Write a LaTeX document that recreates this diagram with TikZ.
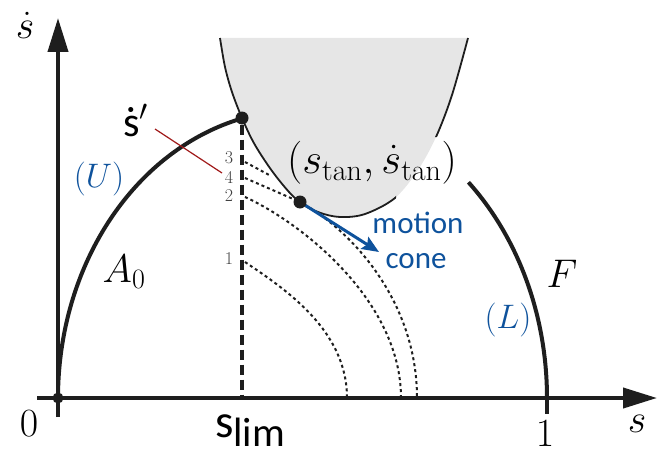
\RequirePackage{fix-cm}
\documentclass[tikz,border=0pt]{standalone}
\usepackage{fontspec}
\newfontfamily\calib{Carlito}
\usetikzlibrary{arrows.meta}
\definecolor{myblue}{RGB}{14,82,156}
\definecolor{mygray}{RGB}{230,230,230}
\definecolor{myred}{RGB}{160,25,25}
\definecolor{ink}{RGB}{30,30,30}
\begin{document}
\begin{tikzpicture}[x=1pt,y=-1pt,
  axisline/.style={line width=4pt, draw=ink, -{Triangle[length=34pt,width=20pt]}},
  thickcurve/.style={line width=4pt, draw=ink},
  boundary/.style={line width=1.8pt, draw=ink},
  dotcurve/.style={line width=2pt, draw=ink, dash pattern=on 3pt off 3pt},
  limline/.style={line width=3.5pt, draw=ink, dash pattern=on 10pt off 5pt},
  bigdot/.style={circle, fill=ink, inner sep=0pt, minimum size=13pt},
  smalldot/.style={circle, fill=ink, inner sep=0pt, minimum size=11pt},
  mathlbl/.style={font=\fontsize{40}{48}\selectfont, inner sep=0pt},
  bluelbl/.style={font=\fontsize{34}{40}\selectfont, text=myblue, inner sep=0pt},
  numlbl/.style={font=\fontsize{18}{20}\selectfont, text=black!75, inner sep=0pt},
  conelbl/.style={font=\calib\fontsize{31}{34}\selectfont, text=myblue, inner sep=0pt, anchor=base},
]
\useasboundingbox (0,0) rectangle (658,452);

% gray region
\def\graypts{(220,38) (225,67) (232,92) (242,118) (255,145) (275,175) (297,200) (318,212) (340,217) (365,214) (395,198) (418,170) (436,137) (452,95) (468,38)}
\fill[mygray] plot[smooth, tension=0.55] coordinates {\graypts} -- cycle;
\begin{scope}
  \clip (0,0) rectangle (396,452) (0,0) rectangle (658,137);
  \draw[boundary] plot[smooth, tension=0.55] coordinates {\graypts};
\end{scope}

% coordinates
\coordinate (O) at (58,398);
\coordinate (xs) at (37,398);
\coordinate (xe) at (657,398);
\coordinate (ys) at (58,417);
\coordinate (ye) at (58,18);
\coordinate (one) at (547,398);
\coordinate (onet) at (547,414);
\coordinate (lim) at (242,398);
\coordinate (d1s) at (245,262); \coordinate (d1e) at (347,398);
\coordinate (d2s) at (245,197); \coordinate (d2e) at (401,398);
\coordinate (d3s) at (245,162); \coordinate (d3e) at (271,176);
\coordinate (d4s) at (245,178); \coordinate (d4e) at (417,398);
\coordinate (rl1) at (155,129); \coordinate (rl2) at (222,173);
\coordinate (mc) at (379,252);

% dotted curves
\draw[dotcurve] (d1s) .. controls (285,289) and (347,330) .. (d1e);
\draw[dotcurve] (d2s) .. controls (300,222) and (401,300) .. (d2e);
\draw[dotcurve] (d3s) -- (d3e);
\draw[dotcurve] (d4s) -- (300,202) .. controls (350,229) and (417,300) .. (d4e);

% dots on curves
\node[bigdot] (P) at (242,118) {};
\node[bigdot] (T) at (300,202) {};

% s_lim dashed line
\draw[limline] (P) -- (lim);

% U and F curves
\draw[thickcurve] plot[domain=180:103.9, samples=80] ({300+242*cos(\x)}, {398-288*sin(\x)});
\draw[thickcurve] plot[domain=47:0, samples=60] ({300+247*cos(\x)}, {398-295*sin(\x)});

% axes
\draw[axisline] (xs) -- (xe);
\draw[axisline] (ys) -- (ye);
\draw[line width=4pt, draw=ink] (one) -- (onet);
\node[smalldot] (Od) at (O) {};

% motion cone arrow
\draw[line width=3pt, draw=myblue, -{Stealth[length=17pt,width=14pt,inset=3pt]}] (T) -- (mc);

% red leader
\draw[line width=1.2pt, draw=myred] (rl1) -- (rl2);

% labels
\node[mathlbl] (lsd) at (25,25) {$\dot s$};
\node[mathlbl] (l0) at (29,424) {$0$};
\node[mathlbl] (l1) at (545,434) {$1$};
\node[mathlbl] (ls) at (637,424) {$s$};
\node[mathlbl] (lA) at (124,272) {$A_0$};
\node[mathlbl] (lF) at (562,274) {$F$};
\node[font=\fontsize{43}{50}\selectfont, inner sep=0pt] (ltan) at (372,163) {$(s_{\tan},\dot s_{\tan})$};
\node[bluelbl] (lU) at (99,179) {$(U)$};
\node[bluelbl] (lL) at (508,320) {$(L)$};
\node[numlbl] (n3) at (229,158) {3};
\node[numlbl] (n4) at (229,177) {4};
\node[numlbl] (n2) at (229,196) {2};
\node[numlbl] (n1) at (229,259) {1};
\node[conelbl] (lm) at (418,233) {motion};
\node[conelbl] (lc) at (416,268) {cone};
\node[inner sep=0pt, anchor=base west, font=\calib\fontsize{42}{48}\selectfont] (lsp) at (123,136) {\accent"02D9 s$'$};
\node[inner sep=0pt, anchor=base west, font=\calib] (lslim) at (215,437) {\fontsize{47}{52}\selectfont s\raisebox{-9pt}{\fontsize{41}{46}\selectfont lim}};
\end{tikzpicture}
\end{document}
